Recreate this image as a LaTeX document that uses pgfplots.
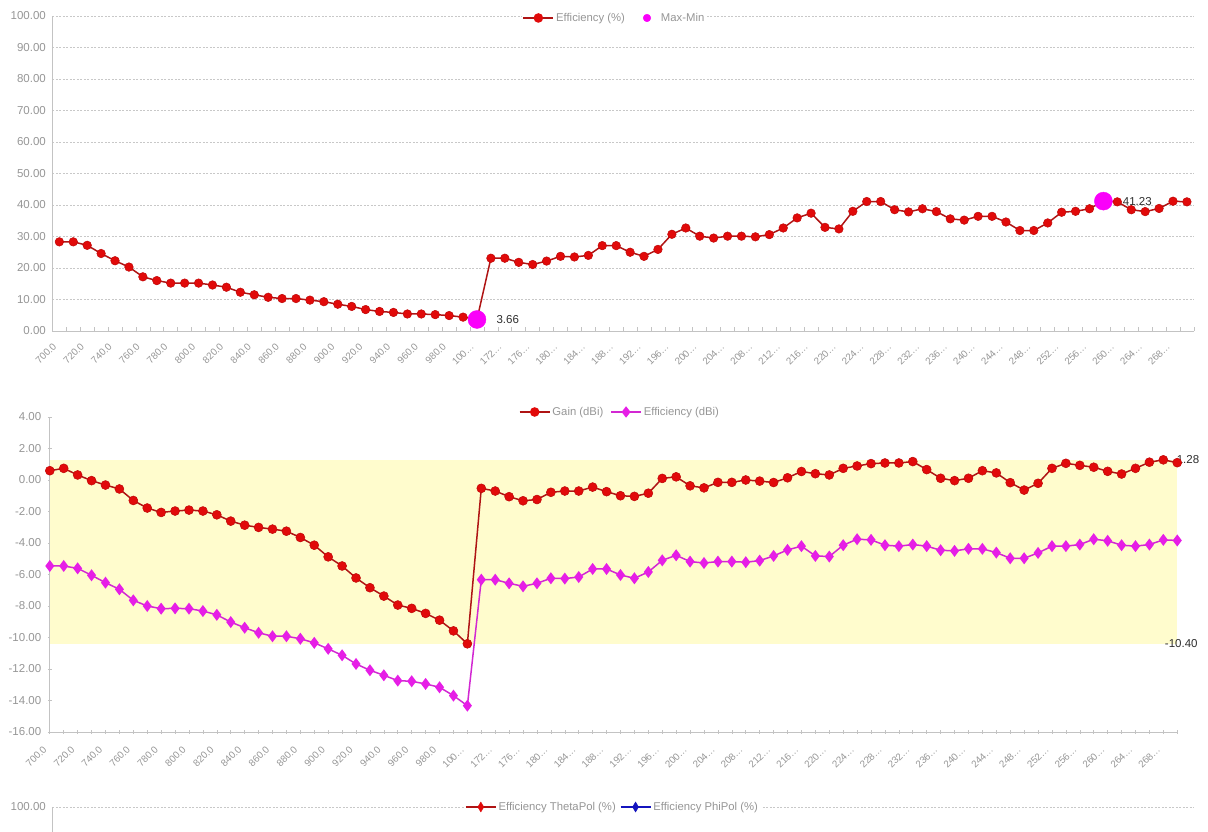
\documentclass[border=0pt]{standalone}
\usepackage{fontspec}
\setmainfont{Liberation Sans}
\usepackage{pgfplots}
\pgfplotsset{compat=1.18}
\usepackage{pgfplotstable}

\definecolor{lblgray}{RGB}{150,150,150}
\definecolor{axgray}{RGB}{195,195,195}
\definecolor{gridgray}{RGB}{200,200,200}
\definecolor{redline}{RGB}{175,20,20}
\definecolor{redmark}{RGB}{225,10,10}
\definecolor{magline}{RGB}{210,40,210}
\definecolor{magmark}{RGB}{230,30,230}
\definecolor{maxmin}{RGB}{250,0,250}
\definecolor{bandyellow}{RGB}{255,252,205}
\definecolor{bluel}{RGB}{20,20,190}
\definecolor{datalbl}{RGB}{45,45,45}

\pgfplotstableread{
i eff
0 28.3
1 28.3
2 27.2
3 24.6
4 22.3
5 20.3
6 17.2
7 16.0
8 15.2
9 15.2
10 15.2
11 14.6
12 13.9
13 12.3
14 11.5
15 10.7
16 10.3
17 10.3
18 9.8
19 9.3
20 8.5
21 7.8
22 6.8
23 6.2
24 5.9
25 5.4
26 5.4
27 5.2
28 4.9
29 4.4
30 3.66
31 23.1
32 23.1
33 21.8
34 21.1
35 22.2
36 23.7
37 23.5
38 24.0
39 27.1
40 27.1
41 25.0
42 23.7
43 25.9
44 30.7
45 32.7
46 30.1
47 29.5
48 30.1
49 30.1
50 29.9
51 30.6
52 32.7
53 35.9
54 37.4
55 32.9
56 32.4
57 38.0
58 41.1
59 41.1
60 38.5
61 37.8
62 38.8
63 37.9
64 35.6
65 35.2
66 36.4
67 36.4
68 34.6
69 31.9
70 31.9
71 34.3
72 37.7
73 38.0
74 38.8
75 41.23
76 41.0
77 38.5
78 37.9
79 38.9
80 41.2
81 41.0
}\efftab

\pgfplotstableread{
i gain effdbi
0 0.59 -5.46
1 0.74 -5.46
2 0.32 -5.61
3 -0.04 -6.05
4 -0.32 -6.52
5 -0.57 -6.94
6 -1.30 -7.64
7 -1.78 -8.00
8 -2.06 -8.17
9 -1.97 -8.15
10 -1.91 -8.17
11 -1.97 -8.32
12 -2.21 -8.56
13 -2.61 -9.02
14 -2.87 -9.38
15 -3.01 -9.70
16 -3.12 -9.92
17 -3.25 -9.92
18 -3.65 -10.08
19 -4.14 -10.34
20 -4.88 -10.72
21 -5.46 -11.13
22 -6.22 -11.68
23 -6.84 -12.08
24 -7.37 -12.40
25 -7.94 -12.74
26 -8.15 -12.78
27 -8.47 -12.95
28 -8.90 -13.16
29 -9.58 -13.69
30 -10.40 -14.33
31 -0.53 -6.33
32 -0.70 -6.33
33 -1.06 -6.56
34 -1.32 -6.75
35 -1.24 -6.56
36 -0.78 -6.24
37 -0.70 -6.26
38 -0.70 -6.16
39 -0.45 -5.65
40 -0.74 -5.65
41 -1.00 -6.03
42 -1.04 -6.24
43 -0.84 -5.84
44 0.10 -5.10
45 0.20 -4.78
46 -0.37 -5.18
47 -0.50 -5.27
48 -0.15 -5.18
49 -0.15 -5.18
50 0.00 -5.22
51 -0.07 -5.12
52 -0.16 -4.82
53 0.14 -4.44
54 0.54 -4.20
55 0.40 -4.82
56 0.32 -4.86
57 0.74 -4.14
58 0.89 -3.76
59 1.04 -3.80
60 1.08 -4.14
61 1.08 -4.20
62 1.17 -4.10
63 0.66 -4.20
64 0.11 -4.46
65 -0.04 -4.50
66 0.11 -4.37
67 0.59 -4.37
68 0.45 -4.61
69 -0.17 -4.97
70 -0.64 -4.97
71 -0.21 -4.63
72 0.74 -4.20
73 1.06 -4.20
74 0.93 -4.10
75 0.81 -3.76
76 0.55 -3.86
77 0.38 -4.14
78 0.74 -4.20
79 1.13 -4.10
80 1.28 -3.80
81 1.10 -3.84
}\gaintab

\pgfplotsset{
  base/.style={
    scale only axis,
    axis lines=left,
    axis line style={draw=axgray, line width=0.8pt, -},
    tick style={draw=axgray, line width=0.6pt},
    /pgf/number format/assume math mode=true,
    y tick label style={font=\fontsize{11.5}{13}\selectfont, text=lblgray, xshift=-3pt},
  },
  xlabs/.style={
    xtick={0,2,...,80},
    xticklabels={700.0,720.0,740.0,760.0,780.0,800.0,820.0,840.0,860.0,880.0,900.0,920.0,940.0,960.0,980.0,100…,172…,176…,180…,184…,188…,192…,196…,200…,204…,208…,212…,216…,220…,224…,228…,232…,236…,240…,244…,248…,252…,256…,260…,264…,268…},
    x tick label style={xshift=-4pt, yshift=-13pt, rotate=45, anchor=east, inner sep=1pt,
      font=\fontsize{9.8}{11}\selectfont, text=lblgray},
  },
  pctlabs/.style={
    ytick={0,10,...,100},
    yticklabels={0.00,10.00,20.00,30.00,40.00,50.00,60.00,70.00,80.00,90.00,100.00},
    ymajorgrids,
    major grid style={draw=gridgray, dash pattern=on 2pt off 1.5pt, line width=0.8pt},
  },
  redimg/.style={legend image code/.code={
    \draw[redline, line width=1.5pt] (0pt,0pt) -- (30pt,0pt);
    \fill[redmark] (15pt,0pt) circle (4pt);}},
}

\begin{document}
\begin{tikzpicture}
\useasboundingbox (0,0) rectangle (1208pt,832pt);
\clip (0,0) rectangle (1208pt,832pt);

% ---------- top panel ----------
\begin{axis}[base, xlabs, pctlabs,
  at={(52.4pt,501pt)}, anchor=south west,
  width=1141.5pt, height=315pt,
  xmin=-0.5, xmax=81.5, ymin=0, ymax=100,
  tick align=inside,
  major tick length=0pt,
  minor xtick={-0.5,0.5,...,81.5},
  minor tick length=4pt,
  legend columns=-1,
  legend style={at={(0.4924,0.9937)}, anchor=center, draw=none, fill=white,
    inner sep=1pt, font=\fontsize{11.3}{13}\selectfont, text=lblgray,
    nodes={inner sep=2pt},
    /tikz/every even column/.append style={column sep=16pt}},
]
\addplot[redline, line width=1.5pt, mark=*, mark size=4.3pt,
  mark options={fill=redmark, draw=redmark!85!black, line width=0.5pt}, redimg]
  table[x=i, y=eff]{\efftab};
\addlegendentry{Efficiency (\%)}
\addplot[only marks, mark=*, mark size=9pt, mark options={fill=maxmin, draw=maxmin},
  point meta=y,
  nodes near coords={\pgfmathprintnumber[fixed, fixed zerofill, precision=2]{\pgfplotspointmeta}},
  every node near coord/.append style={anchor=west, xshift=16pt,
    font=\fontsize{11.5}{13}\selectfont, text=datalbl},
  legend image code/.code={\path[draw=none, fill=none] (0pt,-1pt) rectangle (16pt,1pt);
    \fill[maxmin] (4pt,0pt) circle (3.8pt);}]
  coordinates {(30,3.66) (75,41.23)};
\addlegendentry{Max-Min}
\end{axis}

% ---------- middle panel ----------
\begin{axis}[base, xlabs,
  at={(49.8pt,100pt)}, anchor=south west,
  width=1127.5pt, height=315pt,
  xmin=0, xmax=81, ymin=-16, ymax=4,
  ytick={-16,-14,...,4},
  yticklabels={-16.00,-14.00,-12.00,-10.00,-8.00,-6.00,-4.00,-2.00,0.00,2.00,4.00},
  tick align=center,
  major tick length=4pt, minor tick length=4pt,
  minor xtick={1,3,...,81},
  legend columns=-1,
  legend style={at={(0.5057,1.0159)}, anchor=center, draw=none, fill=white,
    inner sep=1pt, font=\fontsize{11.3}{13}\selectfont, text=lblgray,
    nodes={inner sep=2pt},
    /tikz/every even column/.append style={column sep=5pt}},
]
\addplot[forget plot, fill=bandyellow, draw=none]
  coordinates {(0,-10.40) (0,1.28) (81,1.28) (81,-10.40)} -- cycle;
\addplot[forget plot, only marks, mark=*, mark size=0pt, point meta=y,
  nodes near coords={\pgfmathprintnumber[fixed, fixed zerofill, precision=2]{\pgfplotspointmeta}},
  every node near coord/.append style={anchor=west, xshift=-4pt,
    font=\fontsize{11.5}{13}\selectfont, text=datalbl}]
  coordinates {(81,1.28)};
\addplot[forget plot, only marks, mark=*, mark size=0pt, point meta=y,
  nodes near coords={\pgfmathprintnumber[fixed, fixed zerofill, precision=2]{\pgfplotspointmeta}},
  every node near coord/.append style={anchor=center, xshift=4pt,
    font=\fontsize{11.5}{13}\selectfont, text=datalbl}]
  coordinates {(81,-10.40)};
\addplot[redline, line width=1.5pt, mark=*, mark size=4.5pt,
  mark options={fill=redmark, draw=redmark!85!black, line width=0.5pt}, redimg]
  table[x=i, y=gain]{\gaintab};
\addlegendentry{Gain (dBi)}
\addplot[magline, line width=1.5pt, mark=diamond*, mark size=4.8pt,
  mark options={fill=magmark, draw=magmark},
  legend image code/.code={
    \draw[magline, line width=1.5pt] (0pt,0pt) -- (30pt,0pt);
    \fill[magmark] (15pt,4.5pt) -- (18.5pt,0pt) -- (15pt,-4.5pt) -- (11.5pt,0pt) -- cycle;}]
  table[x=i, y=effdbi]{\gaintab};
\addlegendentry{Efficiency (dBi)}
\end{axis}

% ---------- bottom panel (cut off) ----------
\begin{axis}[base,
  at={(52.4pt,-290pt)}, anchor=south west,
  width=1141.5pt, height=315pt,
  xmin=-0.5, xmax=81.5, ymin=0, ymax=100,
  ytick={100}, yticklabels={100.00},
  ymajorgrids,
  major grid style={draw=gridgray, dash pattern=on 2pt off 1.5pt, line width=0.8pt},
  xtick=\empty, major tick length=0pt,
  legend columns=-1,
  legend style={at={(0.4907,1.0)}, anchor=center, draw=none, fill=white,
    inner sep=1pt, font=\fontsize{11.3}{13}\selectfont, text=lblgray,
    nodes={inner sep=2pt},
    /tikz/every even column/.append style={column sep=2pt}},
]
\addlegendimage{legend image code/.code={
    \draw[redline, line width=1.5pt] (0pt,0pt) -- (30pt,0pt);
    \fill[redmark] (15pt,5pt) -- (18pt,0pt) -- (15pt,-5pt) -- (12pt,0pt) -- cycle;}}
\addlegendentry{Efficiency ThetaPol (\%)}
\addlegendimage{legend image code/.code={
    \draw[bluel, line width=1.5pt] (0pt,0pt) -- (30pt,0pt);
    \fill[bluel] (15pt,5pt) -- (18pt,0pt) -- (15pt,-5pt) -- (12pt,0pt) -- cycle;}}
\addlegendentry{Efficiency PhiPol (\%)}
\end{axis}
\end{tikzpicture}
\end{document}
